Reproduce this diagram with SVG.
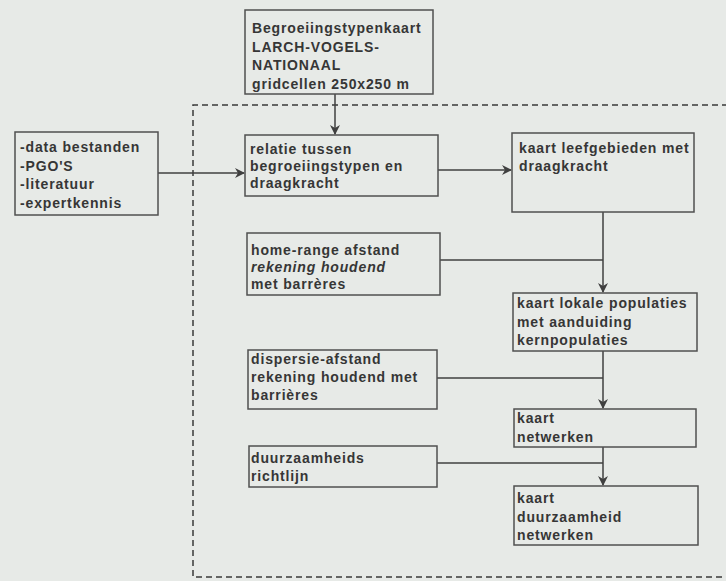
<svg xmlns="http://www.w3.org/2000/svg" width="726" height="581" viewBox="0 0 726 581">
<defs>
<style>
.bg{fill:#e7eae7}
.box rect{fill:none;stroke:#505050;stroke-width:1.5}
text{font-family:"Liberation Sans",Arial,sans-serif;font-weight:bold;font-size:14px;letter-spacing:0.85px;fill:#363636}
.it{font-style:italic}
.con{fill:none;stroke:#404040;stroke-width:1.5}
.dash{fill:none;stroke:#3a3a3a;stroke-width:1.5;stroke-dasharray:6 4}
</style>
<marker id="arr" viewBox="0 0 10 10" refX="9" refY="5" markerWidth="10" markerHeight="10" markerUnits="userSpaceOnUse" orient="auto">
<path d="M0,0 L10,5 L0,10 L3,5 Z" fill="#404040"/>
</marker>
</defs>
<rect class="bg" x="0" y="0" width="726" height="581"/>
<path class="dash" d="M728,105 H193 V577 H728"/>
<g id="connectors">
<path class="con" d="M335,94 V134" marker-end="url(#arr)"/>
<path class="con" d="M158,173 H244" marker-end="url(#arr)"/>
<path class="con" d="M438,170 H511" marker-end="url(#arr)"/>
<path class="con" d="M603,212 V292" marker-end="url(#arr)"/>
<path class="con" d="M440,260 H603"/>
<path class="con" d="M603,351 V408" marker-end="url(#arr)"/>
<path class="con" d="M437,378 H603"/>
<path class="con" d="M603,447 V485" marker-end="url(#arr)"/>
<path class="con" d="M437,463 H603"/>
</g>
<g id="begroeiingstypenkaart" class="box">
<rect x="245" y="10" width="188" height="84"/>
<text x="252" y="33">Begroeiingstypenkaart</text>
<text x="252" y="51.5">LARCH-VOGELS-</text>
<text x="252" y="70">NATIONAAL</text>
<text x="252" y="88.5">gridcellen 250x250 m</text>
</g>
<g id="bronnen" class="box">
<rect x="15" y="132" width="143" height="83"/>
<text x="20" y="152">-data bestanden</text>
<text x="20" y="170.5">-PGO'S</text>
<text x="20" y="189">-literatuur</text>
<text x="20" y="207.5">-expertkennis</text>
</g>
<g id="relatie" class="box">
<rect x="245" y="135" width="193" height="61"/>
<text x="250" y="154">relatie tussen</text>
<text x="250" y="171">begroeiingstypen en</text>
<text x="250" y="188">draagkracht</text>
</g>
<g id="leefgebieden" class="box">
<rect x="512" y="133" width="182" height="79"/>
<text x="519" y="153">kaart leefgebieden met</text>
<text x="519" y="171">draagkracht</text>
</g>
<g id="homerange" class="box">
<rect x="247" y="233" width="193" height="62"/>
<text x="251" y="255">home-range afstand</text>
<text x="251" y="272" class="it">rekening houdend</text>
<text x="251" y="289">met barrères</text>
</g>
<g id="lokalepopulaties" class="box">
<rect x="513" y="293" width="184" height="58"/>
<text x="517" y="308">kaart lokale populaties</text>
<text x="517" y="326.5">met aanduiding</text>
<text x="517" y="345">kernpopulaties</text>
</g>
<g id="dispersie" class="box">
<rect x="248" y="350" width="189" height="59"/>
<text x="251" y="364">dispersie-afstand</text>
<text x="251" y="382">rekening houdend met</text>
<text x="251" y="400">barrières</text>
</g>
<g id="netwerken" class="box">
<rect x="514" y="409" width="182" height="38"/>
<text x="517" y="423">kaart</text>
<text x="517" y="441.5">netwerken</text>
</g>
<g id="duurzaamheidsrichtlijn" class="box">
<rect x="249" y="446" width="188" height="41"/>
<text x="251" y="462.5">duurzaamheids</text>
<text x="251" y="480.5">richtlijn</text>
</g>
<g id="duurzaamheid" class="box">
<rect x="514" y="486" width="184" height="59"/>
<text x="517" y="502.5">kaart</text>
<text x="517" y="521.5">duurzaamheid</text>
<text x="517" y="540">netwerken</text>
</g>
</svg>
